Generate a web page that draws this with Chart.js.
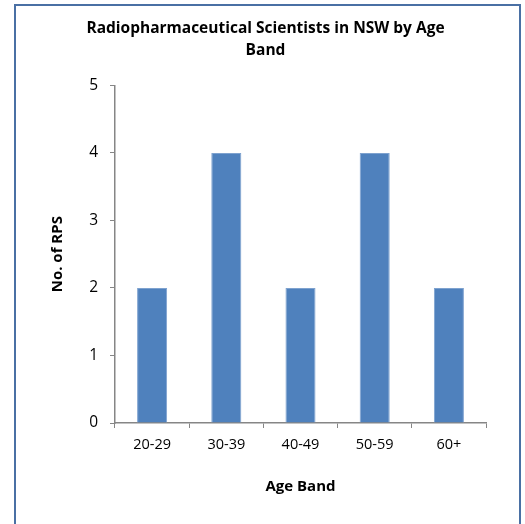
<!DOCTYPE html>
<html>
<head>
<meta charset="utf-8">
<script src="https://cdn.jsdelivr.net/npm/chart.js@4/dist/chart.umd.min.js"></script>
<style>
  html, body { margin: 0; padding: 0; background: #fff; }
  #wrap { position: relative; width: 525px; height: 524px; overflow: hidden; }
  #frame {
    position: absolute; left: 14px; top: 4px; width: 507px; height: 540px;
    border: 2px solid #4A70A4; box-sizing: border-box;
  }
  #chart { position: absolute; left: 0; top: 0; }
</style>
</head>
<body>
<div id="wrap">
  <div id="frame"></div>
  <canvas id="chart" width="525" height="524"></canvas>
</div>
<script>
// chart data
const ageBands = ["20-29", "30-39", "40-49", "50-59", "60+"];
const rpsCounts = [2, 4, 2, 4, 2];
const titleLines = ["Radiopharmaceutical Scientists in NSW by Age", "Band"];

const FONT = "'Open Sans', 'Noto Sans', sans-serif";
const AXIS_COLOR = "#868686";

const ctx = document.getElementById("chart").getContext("2d");
new Chart(ctx, {
  type: "bar",
  data: {
    labels: ageBands,
    datasets: [
      {
        label: "No. of RPS",
        data: rpsCounts,
        backgroundColor: "#4F81BD",
        borderColor: "#7EA2CF",
        borderWidth: 1,
        barPercentage: 1,
        categoryPercentage: 0.405,
      },
    ],
  },
  options: {
    responsive: false,
    animation: false,
    layout: { padding: { left: 45, right: 39, top: 18, bottom: 24 } },
    plugins: {
      legend: { display: false },
      tooltip: { enabled: false },
      title: {
        display: true,
        text: titleLines,
        color: "#000",
        font: { family: FONT, size: 15.5, weight: "bold", lineHeight: 1.4 },
        padding: { top: 0, bottom: 24 },
      },
    },
    scales: {
      x: {
        afterFit: (scale) => { scale.height = 77; },
        grid: {
          drawOnChartArea: false,
          drawTicks: true,
          tickLength: 5,
          color: AXIS_COLOR,
          offset: true,
        },
        border: { color: AXIS_COLOR, width: 1.5 },
        ticks: {
          color: "#000",
          font: { family: FONT, size: 14.5 },
          padding: 8,
        },
        title: {
          display: true,
          text: "Age Band",
          color: "#000",
          font: { family: FONT, size: 15, weight: "bold" },
          padding: 4,
        },
      },
      y: {
        min: 0,
        max: 5,
        afterFit: (scale) => { scale.width = 70; },
        grid: {
          drawOnChartArea: false,
          drawTicks: true,
          tickLength: 5,
          color: AXIS_COLOR,
        },
        border: { color: AXIS_COLOR, width: 1.5 },
        ticks: {
          stepSize: 1,
          color: "#000",
          font: { family: FONT, size: 15.5 },
          padding: 12,
        },
        title: {
          display: true,
          text: "No. of RPS",
          color: "#000",
          font: { family: FONT, size: 15, weight: "bold" },
          padding: 4,
        },
      },
    },
  },
});
</script>
</body>
</html>
